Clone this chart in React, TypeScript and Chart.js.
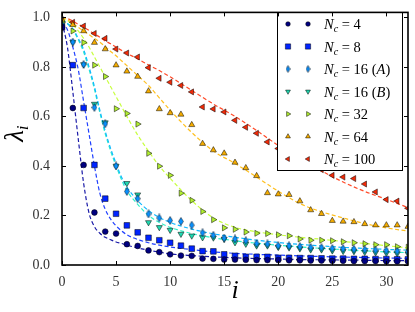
import React, { useEffect, useRef } from 'react';
import { Chart, registerables } from 'chart.js';

Chart.register(...registerables);

// ---------- data ----------
const I = [0, 1, 2, 3, 4, 5, 6, 7, 8, 9, 10, 11, 12, 13, 14, 15, 16, 17, 18, 19, 20, 21, 22, 23, 24, 25, 26, 27, 28, 29, 30, 31, 32];

const NC4 = [0.96, 0.634, 0.404, 0.212, 0.135, 0.127, 0.084, 0.077, 0.059, 0.052, 0.043, 0.038, 0.037, 0.026, 0.025, 0.022, 0.022, 0.021, 0.02, 0.02, 0.02, 0.019, 0.019, 0.018, 0.018, 0.017, 0.017, 0.016, 0.016, 0.016, 0.015, 0.015, 0.015];
const NC8 = [0.96, 0.807, 0.634, 0.404, 0.268, 0.207, 0.16, 0.132, 0.11, 0.1, 0.09, 0.078, 0.066, 0.056, 0.055, 0.043, 0.037, 0.033, 0.033, 0.033, 0.029, 0.029, 0.028, 0.028, 0.027, 0.026, 0.026, 0.025, 0.025, 0.024, 0.024, 0.023, 0.023];
const NC16A = [0.97, 0.9, 0.81, 0.636, 0.57, 0.4, 0.297, 0.268, 0.206, 0.19, 0.18, 0.176, 0.161, 0.13, 0.12, 0.109, 0.105, 0.098, 0.087, 0.085, 0.078, 0.077, 0.074, 0.071, 0.07, 0.067, 0.066, 0.064, 0.062, 0.06, 0.058, 0.056, 0.054];
const NC16B = [0.97, 0.9, 0.81, 0.65, 0.575, 0.4, 0.33, 0.284, 0.172, 0.152, 0.141, 0.125, 0.118, 0.111, 0.11, 0.105, 0.091, 0.085, 0.078, 0.078, 0.072, 0.07, 0.066, 0.062, 0.062, 0.058, 0.056, 0.055, 0.052, 0.05, 0.048, 0.046, 0.045];
const NC32 = [0.98, 0.945, 0.898, 0.807, 0.761, 0.631, 0.612, 0.569, 0.451, 0.399, 0.362, 0.29, 0.261, 0.216, 0.183, 0.15, 0.144, 0.133, 0.128, 0.127, 0.122, 0.118, 0.105, 0.1, 0.1, 0.098, 0.094, 0.09, 0.086, 0.082, 0.082, 0.074, 0.072];
const NC64 = [0.99, 0.97, 0.945, 0.898, 0.872, 0.807, 0.782, 0.761, 0.702, 0.63, 0.614, 0.608, 0.566, 0.49, 0.464, 0.451, 0.414, 0.392, 0.36, 0.291, 0.286, 0.284, 0.258, 0.222, 0.207, 0.179, 0.176, 0.174, 0.166, 0.161, 0.161, 0.161, 0.155];
const NC100 = [0.99, 0.98, 0.965, 0.935, 0.915, 0.872, 0.856, 0.84, 0.797, 0.754, 0.738, 0.725, 0.699, 0.638, 0.63, 0.618, 0.584, 0.556, 0.532, 0.497, 0.47, 0.45, 0.43, 0.41, 0.385, 0.362, 0.355, 0.349, 0.327, 0.295, 0.264, 0.258, 0.229];

// fitted (dashed) curves, sampled at FIT_X
const FIT_X = [0, 0.5, 1, 1.5, 2, 2.5, 3, 3.5, 4, 4.5, 5, 5.5, 6, 7, 8, 9, 10, 12, 14, 16, 18, 20, 22, 24, 26, 28, 30, 32];
const FIT4 = [0.98, 0.88, 0.7, 0.51, 0.33, 0.21, 0.155, 0.128, 0.112, 0.102, 0.093, 0.087, 0.08, 0.069, 0.06, 0.052, 0.045, 0.038, 0.033, 0.029, 0.026, 0.024, 0.022, 0.021, 0.02, 0.019, 0.018, 0.018];
const FIT8 = [0.98, 0.95, 0.88, 0.79, 0.66, 0.53, 0.4, 0.29, 0.225, 0.185, 0.158, 0.138, 0.122, 0.103, 0.09, 0.08, 0.073, 0.062, 0.053, 0.047, 0.043, 0.04, 0.037, 0.034, 0.032, 0.03, 0.028, 0.027];
const FIT16A = [0.99, 0.975, 0.955, 0.915, 0.87, 0.8, 0.72, 0.625, 0.54, 0.47, 0.41, 0.355, 0.315, 0.26, 0.22, 0.192, 0.172, 0.145, 0.126, 0.112, 0.1, 0.091, 0.083, 0.077, 0.071, 0.067, 0.063, 0.06];
const FIT16B = [0.99, 0.975, 0.95, 0.91, 0.86, 0.79, 0.71, 0.615, 0.53, 0.46, 0.4, 0.345, 0.3, 0.245, 0.2, 0.172, 0.152, 0.127, 0.11, 0.098, 0.088, 0.08, 0.073, 0.067, 0.062, 0.057, 0.053, 0.05];
const FIT32 = [0.995, 0.985, 0.97, 0.945, 0.915, 0.88, 0.84, 0.8, 0.76, 0.72, 0.68, 0.64, 0.6, 0.525, 0.46, 0.4, 0.35, 0.26, 0.19, 0.152, 0.134, 0.122, 0.112, 0.104, 0.095, 0.087, 0.078, 0.069];
const FIT64 = [1.0, 0.99, 0.975, 0.96, 0.945, 0.93, 0.915, 0.9, 0.882, 0.862, 0.845, 0.825, 0.805, 0.765, 0.725, 0.675, 0.625, 0.535, 0.46, 0.41, 0.355, 0.298, 0.248, 0.215, 0.19, 0.167, 0.15, 0.137];
const FIT100 = [1.0, 0.995, 0.985, 0.972, 0.96, 0.947, 0.933, 0.92, 0.905, 0.893, 0.88, 0.867, 0.855, 0.832, 0.808, 0.785, 0.76, 0.705, 0.65, 0.6, 0.543, 0.483, 0.43, 0.38, 0.335, 0.297, 0.265, 0.232];

const X_TICKS = [0, 5, 10, 15, 20, 25, 30];
const Y_TICKS = [0, 0.2, 0.4, 0.6, 0.8, 1.0];

type Seg = { t: string; i?: boolean; s?: boolean };
const LEGEND_LABELS: Seg[][] = [
  [{ t: 'N', i: true }, { t: 'c', i: true, s: true }, { t: ' = 4' }],
  [{ t: 'N', i: true }, { t: 'c', i: true, s: true }, { t: ' = 8' }],
  [{ t: 'N', i: true }, { t: 'c', i: true, s: true }, { t: ' = 16 (' }, { t: 'A', i: true }, { t: ')' }],
  [{ t: 'N', i: true }, { t: 'c', i: true, s: true }, { t: ' = 16 (' }, { t: 'B', i: true }, { t: ')' }],
  [{ t: 'N', i: true }, { t: 'c', i: true, s: true }, { t: ' = 32' }],
  [{ t: 'N', i: true }, { t: 'c', i: true, s: true }, { t: ' = 64' }],
  [{ t: 'N', i: true }, { t: 'c', i: true, s: true }, { t: ' = 100' }],
];

const SERIES = [NC4, NC8, NC16A, NC16B, NC32, NC64, NC100];
const FITS = [FIT4, FIT8, FIT16A, FIT16B, FIT32, FIT64, FIT100];
const MARKER_COLORS = ['#000080', '#0024ff', '#0890ff', '#20d8b0', '#b0ee30', '#f4ac00', '#f02a08'];
const LINE_COLORS = ['#1a1aa8', '#2040ff', '#10b8ff', '#30f0c8', '#c8ff40', '#ffc020', '#ff4a28'];
const STYLES = ['circle', 'rect', 'diamond', 'tdown', 'tright', 'tup', 'tleft'];

const SERIF = '"Liberation Serif", "DejaVu Serif", serif';

function diamondImg(color: string, w: number, h: number) {
  const c = document.createElement('canvas');
  c.width = w;
  c.height = h;
  const g = c.getContext('2d')!;
  g.beginPath();
  g.moveTo(w / 2, 0.5);
  g.lineTo(w - 0.6, h / 2);
  g.lineTo(w / 2, h - 0.5);
  g.lineTo(0.6, h / 2);
  g.closePath();
  g.fillStyle = color;
  g.fill();
  g.strokeStyle = '#000';
  g.lineWidth = 0.5;
  g.stroke();
  return c;
}

function drawMarker(ctx: CanvasRenderingContext2D, style: string, x: number, y: number, color: string, r: number, img: HTMLCanvasElement | null) {
  ctx.save();
  ctx.fillStyle = color;
  ctx.strokeStyle = '#000';
  ctx.lineWidth = 0.5;
  ctx.beginPath();
  if (style === 'circle') {
    ctx.arc(x, y, r, 0, Math.PI * 2);
  } else if (style === 'rect') {
    const s = r * 0.85;
    ctx.rect(x - s, y - s, 2 * s, 2 * s);
  } else if (style === 'diamond') {
    if (img) ctx.drawImage(img, x - img.width / 2, y - img.height / 2);
    ctx.restore();
    return;
  } else {
    const rot = style === 'tup' ? 0 : style === 'tright' ? 90 : style === 'tdown' ? 180 : 270;
    let a = (rot * Math.PI) / 180;
    ctx.moveTo(x + Math.sin(a) * r, y - Math.cos(a) * r);
    a += (2 * Math.PI) / 3;
    ctx.lineTo(x + Math.sin(a) * r, y - Math.cos(a) * r);
    a += (2 * Math.PI) / 3;
    ctx.lineTo(x + Math.sin(a) * r, y - Math.cos(a) * r);
    ctx.closePath();
  }
  ctx.fill();
  ctx.stroke();
  ctx.restore();
}

function drawMath(ctx: CanvasRenderingContext2D, x: number, y: number, segs: Seg[], size: number) {
  let cx = x;
  for (const s of segs) {
    const fs = s.s ? size * 0.7 : size;
    ctx.font = `${s.i ? 'italic ' : ''}${fs}px ${SERIF}`;
    ctx.fillText(s.t, cx, y + (s.s ? size * 0.22 : 0));
    cx += ctx.measureText(s.t).width;
  }
}

export default function App() {
  const ref = useRef<HTMLCanvasElement>(null);

  useEffect(() => {
    document.body.style.margin = '0';
    const canvas = ref.current!;
    const diamond = diamondImg(MARKER_COLORS[2], 6, 9);
    const diamondLegend = diamondImg(MARKER_COLORS[2], 5, 8);

    const pointStyleOf = (st: string): any => {
      if (st === 'circle') return { pointStyle: 'circle', pointRadius: 2.9, pointRotation: 0 };
      if (st === 'rect') return { pointStyle: 'rect', pointRadius: 4, pointRotation: 0 };
      if (st === 'diamond') return { pointStyle: diamond, pointRadius: 4, pointRotation: 0 };
      const rot = st === 'tup' ? 0 : st === 'tright' ? 90 : st === 'tdown' ? 180 : 270;
      return { pointStyle: 'triangle', pointRadius: 3.5, pointRotation: rot };
    };

    const datasets: any[] = [];
    SERIES.forEach((vals, k) => {
      datasets.push({
        type: 'scatter',
        data: I.map((x, j) => ({ x, y: vals[j] })),
        backgroundColor: MARKER_COLORS[k],
        borderColor: '#000',
        borderWidth: 0.5,
        showLine: false,
        clip: 0,
        order: 0,
        ...pointStyleOf(STYLES[k]),
      });
    });
    FITS.forEach((vals, k) => {
      datasets.push({
        type: 'line',
        data: FIT_X.map((x, j) => ({ x, y: vals[j] })),
        borderColor: LINE_COLORS[k],
        borderWidth: 1.2,
        borderDash: [4, 2.5],
        pointRadius: 0,
        fill: false,
        cubicInterpolationMode: 'monotone',
        clip: 0,
        order: 1,
      });
    });

    const framePlugin = {
      id: 'frame',
      afterDatasetsDraw(chart: any) {
        const ctx: CanvasRenderingContext2D = chart.ctx;
        const a = chart.chartArea;
        const xs = chart.scales.x;
        const ys = chart.scales.y;

        // legend box
        const lx = 277, ly = 12, lw = 125, lh = 158;
        ctx.save();
        ctx.fillStyle = '#fff';
        ctx.fillRect(lx, ly, lw, lh);
        ctx.strokeStyle = '#000';
        ctx.lineWidth = 1;
        ctx.strokeRect(lx + 0.5, ly + 0.5, lw, lh);
        ctx.textBaseline = 'alphabetic';
        ctx.textAlign = 'left';
        ctx.fillStyle = '#000';
        LEGEND_LABELS.forEach((segs, k) => {
          const ry = 24 + k * 22.5;
          const st = STYLES[k];
          const r = st === 'circle' ? 2.3 : st === 'rect' ? 3.1 : 2.8;
          drawMarker(ctx, st, 288, ry, MARKER_COLORS[k], r, diamondLegend);
          drawMarker(ctx, st, 308, ry, MARKER_COLORS[k], r, diamondLegend);
          ctx.fillStyle = '#000';
          drawMath(ctx, 324, ry + 5, segs, 14.5);
        });
        ctx.restore();

        // border
        ctx.save();
        ctx.strokeStyle = '#000';
        ctx.lineWidth = 1.6;
        ctx.strokeRect(a.left, a.top, a.right - a.left, a.bottom - a.top);
        ctx.lineWidth = 1;
        ctx.beginPath();
        X_TICKS.forEach((v) => {
          const px = Math.round(xs.getPixelForValue(v)) + 0.5;
          ctx.moveTo(px, a.bottom);
          ctx.lineTo(px, a.bottom - 4);
          ctx.moveTo(px, a.top);
          ctx.lineTo(px, a.top + 4);
        });
        Y_TICKS.forEach((v) => {
          const py = Math.round(ys.getPixelForValue(v)) + 0.5;
          ctx.moveTo(a.left, py);
          ctx.lineTo(a.left + 4, py);
          ctx.moveTo(a.right, py);
          ctx.lineTo(a.right - 4, py);
        });
        ctx.stroke();

        // axis titles
        ctx.fillStyle = '#000';
        ctx.textBaseline = 'alphabetic';
        ctx.textAlign = 'center';
        ctx.font = `italic 26px ${SERIF}`;
        ctx.fillText('i', (a.left + a.right) / 2, 298);

        ctx.translate(23, 136);
        ctx.rotate(-Math.PI / 2);
        ctx.textAlign = 'left';
        ctx.font = `italic 27px ${SERIF}`;
        const w = ctx.measureText('λ').width;
        ctx.fillText('λ', -w / 2, 0);
        ctx.font = `italic 17px ${SERIF}`;
        ctx.fillText('i', w / 2, 5);
        ctx.restore();
      },
    };

    const chart = new Chart(canvas, {
      type: 'scatter',
      data: { datasets },
      options: {
        animation: false,
        responsive: false,
        maintainAspectRatio: false,
        layout: { padding: { left: 0, right: 7, top: 5, bottom: 0 } },
        plugins: { legend: { display: false }, tooltip: { enabled: false } },
        scales: {
          x: {
            type: 'linear',
            min: 0,
            max: 32,
            grid: { display: false },
            border: { display: false },
            ticks: {
              stepSize: 5,
              padding: 1,
              color: '#333',
              font: { family: SERIF, size: 14 },
              maxRotation: 0,
              autoSkip: false,
            },
            afterBuildTicks: (s: any) => {
              s.ticks = X_TICKS.map((v) => ({ value: v }));
            },
            afterFit: (s: any) => {
              s.height = 47;
            },
          },
          y: {
            type: 'linear',
            min: 0,
            max: 1.02,
            grid: { display: false },
            border: { display: false },
            ticks: {
              stepSize: 0.2,
              padding: 4,
              color: '#333',
              font: { family: SERIF, size: 14 },
              callback: (v: any) => Number(v).toFixed(1),
              autoSkip: false,
            },
            afterBuildTicks: (s: any) => {
              s.ticks = Y_TICKS.map((v) => ({ value: v }));
            },
            afterFit: (s: any) => {
              s.width = 62;
            },
          },
        },
      } as any,
      plugins: [framePlugin],
    });

    return () => chart.destroy();
  }, []);

  return (
    <div style={{ width: 415, height: 312 }}>
      <canvas ref={ref} width={415} height={312} style={{ width: 415, height: 312, display: 'block' }} />
    </div>
  );
}
